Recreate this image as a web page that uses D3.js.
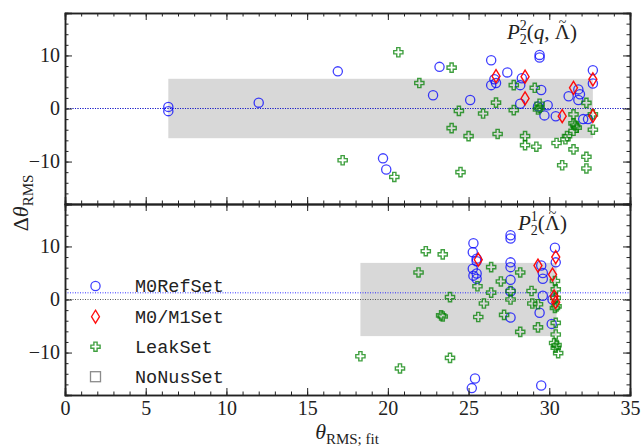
<!DOCTYPE html>
<html>
<head>
<meta charset="utf-8">
<title>RMS residuals</title>
<script src="https://cdn.jsdelivr.net/npm/d3@7"></script>
<style>
  body { margin: 0; background: #fff; }
  text { fill: #222; }
</style>
</head>
<body>
<script>
// ---- data: [theta_RMS;fit, delta theta_RMS] ----
var topM0Ref = [[6.4,0.3],[6.4,-0.5],[12.0,1.1],[16.9,7.0],[19.7,-9.4],[19.9,-11.5],[22.8,2.5],[23.2,7.85],
  [25.1,1.6],[26.4,9.1],[26.4,4.4],[26.6,5.5],[26.7,4.8],[27.4,6.8],[28.2,4.4],[28.3,5.7],[28.2,0.9],
  [29.3,0.4],[29.4,10.1],[29.4,9.6],[29.5,3.5],[29.7,-1.3],[29.9,0.6],[30.4,-1.45],[31.2,2.3],[31.8,3.6],
  [31.9,2.7],[31.8,1.6],[32.1,-2.0],[32.4,-2.0],[32.7,7.2],[32.7,4.7]];
var topM0M1 = [[26.7,6.1],[28.5,6.0],[28.5,1.9],[30.8,-1.45],[31.5,3.9],[32.7,5.5],[32.7,-1.4]];
var topLeak = [[17.2,-9.75],[20.4,-12.9],[20.65,10.6],[21.95,4.8],[23.95,7.7],[23.95,-3.7],[24.4,-0.45],
  [24.5,-12.0],[25.0,-5.2],[25.9,-0.95],[26.7,1.1],[26.8,-4.8],[27.8,4.4],[27.8,-0.3],[28.5,-5.2],
  [28.5,-6.9],[29.1,3.9],[29.2,-7.2],[29.4,0.9],[29.4,0.1],[29.3,-0.2],[30.45,-6.5],[30.8,-10.7],
  [31.0,-5.8],[31.1,-5.2],[31.5,-2.8],[31.6,-3.2],[31.7,-3.6],[31.5,-4.2],[31.5,-1.1],[31.5,-7.7],
  [32.3,1.06],[32.3,-9.1],[32.3,-11.3],[32.7,-1.1],[32.7,-4.0]];

var botM0Ref = [[25.3,10.6],[25.26,8.9],[25.5,7.7],[25.5,7.2],[25.26,5.8],[25.5,4.9],[25.3,4.5],[25.5,3.9],
  [25.2,-16.7],[25.4,-14.9],[27.6,12.1],[27.6,11.5],[27.6,7.0],[27.6,6.1],[27.6,3.7],[27.6,1.5],[27.6,-3.4],
  [29.5,-16.2],[29.5,6.4],[29.6,5.0],[29.6,3.9],[29.6,0.7],[29.4,-2.5],[30.15,-4.6],[30.35,9.75],
  [30.4,7.0],[30.2,0.0]];
var botM0M1 = [[25.6,7.5],[29.3,6.4],[30.4,8.0],[30.2,4.7],[30.3,0.6],[30.4,-0.5]];
var botLeak = [[18.3,-10.7],[20.75,-13.0],[21.9,5.1],[22.35,9.1],[23.4,8.5],[23.3,-3.0],[23.4,-3.2],
  [23.85,0.45],[23.85,-11.0],[25.55,2.5],[25.6,-3.3],[25.95,-0.75],[26.4,6.1],[26.4,1.3],[27.0,3.4],
  [27.2,-2.9],[27.6,1.6],[27.6,0.0],[28.2,5.1],[28.2,-6.1],[28.9,1.6],[28.95,-0.75],[29.3,-0.9],
  [29.3,-5.25],[30.35,3.5],[30.4,1.9],[30.4,0.3],[30.45,-1.3],[30.35,-1.6],[30.4,-4.4],[30.4,-6.6],
  [30.3,-8.2],[30.45,-8.6],[30.4,-9.1],[30.55,-10.1]];

// shaded bands [x0, x1, halfHeight] and reference lines
var topBand = [6.4, 32.7, 5.6];
var botBand = [18.3, 30.45, 6.9];
var topLines = [0];
var botLines = [1.26];

var legendNames = ["M0RefSet", "M0/M1Set", "LeakSet", "NoNusSet"];
var xTicks = [0, 5, 10, 15, 20, 25, 30, 35];
var yTicks = [-10, 0, 10];

// ---- layout ----
var W = 642, H = 447;
var svg = d3.select("body").append("svg").attr("width", W).attr("height", H);

var x = d3.scaleLinear().domain([0, 35]).range([65, 630]);
var yTop = d3.scaleLinear().domain([-18, 18]).range([204, 13]);
var yBot = d3.scaleLinear().domain([-18, 18]).range([395, 204]);

var serif = "'Liberation Serif', 'Times New Roman', serif";

var circleCol = "rgba(0,0,255,0.75)",
    diamondCol = "rgba(255,0,0,0.95)",
    crossCol = "rgba(0,128,0,0.75)";

function crossPath(s, w) {
  return "M" + (-w) + "," + (-s) + "H" + w + "V" + (-w) + "H" + s + "V" + w + "H" + w + "V" + s +
         "H" + (-w) + "V" + w + "H" + (-s) + "V" + (-w) + "H" + (-w) + "Z";
}
var diamondPath = "M0,-6.5L4,0L0,6.5L-4,0Z";

function drawPanel(y, band, lines, refs, m0m1, leak, isBottom) {
  var g = svg.append("g");

  g.append("rect")
    .attr("x", x(band[0])).attr("width", x(band[1]) - x(band[0]))
    .attr("y", y(band[2])).attr("height", y(-band[2]) - y(band[2]))
    .attr("fill", "#d8d8d8");

  // zero line (black dotted) + fit offset (blue dotted)
  g.append("line")
    .attr("x1", x(0)).attr("x2", x(35)).attr("y1", y(0)).attr("y2", y(0))
    .attr("stroke", "#555").attr("stroke-width", 1).attr("stroke-dasharray", "1,1.5");
  g.selectAll("line.fit").data(lines).enter().append("line")
    .attr("x1", x(0)).attr("x2", x(35))
    .attr("y1", function(d) { return y(d); }).attr("y2", function(d) { return y(d); })
    .attr("stroke", "rgba(0,0,255,0.8)").attr("stroke-width", 1).attr("stroke-dasharray", "1,1.5");

  g.selectAll("circle.ref").data(refs).enter().append("circle")
    .attr("cx", function(d) { return x(d[0]); })
    .attr("cy", function(d) { return y(d[1]); })
    .attr("r", 4.6)
    .attr("fill", "none").attr("stroke", circleCol).attr("stroke-width", 1.3);

  g.selectAll("path.leak").data(leak).enter().append("path")
    .attr("d", crossPath(4.6, 1.6))
    .attr("transform", function(d) { return "translate(" + x(d[0]) + "," + y(d[1]) + ")"; })
    .attr("fill", "none").attr("stroke", crossCol).attr("stroke-width", 1.4);

  g.selectAll("path.m0m1").data(m0m1).enter().append("path")
    .attr("d", diamondPath)
    .attr("transform", function(d) { return "translate(" + x(d[0]) + "," + y(d[1]) + ")"; })
    .attr("fill", "none").attr("stroke", diamondCol).attr("stroke-width", 1.4);

  // axes, ticks inward on all sides
  var y0 = y.range()[0], y1 = y.range()[1];
  var minorX = d3.range(0, 36, 1), minorY = d3.range(-18, 19, 2);
  function style(a) {
    a.attr("font-family", serif).attr("font-size", 20);
    a.select(".domain").attr("stroke", "#222").attr("stroke-width", 1.5);
    a.selectAll(".tick line").attr("stroke", "#222").attr("stroke-width", 1);
    a.selectAll("text").attr("font-family", serif).attr("font-size", 20).attr("fill", "#222");
  }
  var ax;
  ax = g.append("g").attr("transform", "translate(0," + y0 + ")")
    .call(d3.axisBottom(x).tickValues(minorX).tickSize(-3.5).tickFormat(""));
  style(ax);
  ax = g.append("g").attr("transform", "translate(0," + y0 + ")")
    .call(d3.axisBottom(x).tickValues(xTicks).tickSize(-7).tickPadding(6)
      .tickFormat(isBottom ? d3.format("d") : ""));
  style(ax);
  ax = g.append("g").attr("transform", "translate(0," + y1 + ")")
    .call(d3.axisTop(x).tickValues(minorX).tickSize(-3.5).tickFormat(""));
  style(ax);
  ax = g.append("g").attr("transform", "translate(0," + y1 + ")")
    .call(d3.axisTop(x).tickValues(xTicks).tickSize(-7).tickFormat(""));
  style(ax);

  ax = g.append("g").attr("transform", "translate(" + x(0) + ",0)")
    .call(d3.axisLeft(y).tickValues(minorY).tickSize(-3.5).tickFormat(""));
  style(ax);
  ax = g.append("g").attr("transform", "translate(" + x(0) + ",0)")
    .call(d3.axisLeft(y).tickValues(yTicks).tickSize(-7).tickPadding(5)
      .tickFormat(function(d) { return d < 0 ? "\u2212" + Math.abs(d) : d; }));
  style(ax);
  ax = g.append("g").attr("transform", "translate(" + x(35) + ",0)")
    .call(d3.axisRight(y).tickValues(minorY).tickSize(-3.5).tickFormat(""));
  style(ax);
  ax = g.append("g").attr("transform", "translate(" + x(35) + ",0)")
    .call(d3.axisRight(y).tickValues(yTicks).tickSize(-7).tickFormat(""));
  style(ax);
  return g;
}

drawPanel(yTop, topBand, topLines, topM0Ref, topM0M1, topLeak, false);
drawPanel(yBot, botBand, botLines, botM0Ref, botM0M1, botLeak, true);

// panel titles; the tilde over Lambda is placed by hand from the glyph extent
function tildeOver(tspan) {
  var n = tspan.node();
  var p = n.getStartPositionOfChar(0);
  var w = n.getComputedTextLength();
  svg.append("text")
    .attr("x", p.x + w / 2).attr("y", p.y - 12)
    .attr("text-anchor", "middle")
    .attr("font-family", serif).attr("font-size", 14)
    .text("~");
}
function title(xp, yp, sup, arg) {
  var t = svg.append("text").attr("x", xp).attr("y", yp)
    .attr("font-family", serif).attr("font-size", 21);
  t.append("tspan").attr("font-style", "italic").text("P");
  t.append("tspan").attr("font-size", 14).attr("dy", 5).text("2");
  t.append("tspan").attr("font-size", 14).attr("dx", -7).attr("dy", -14).text(sup);
  t.append("tspan").attr("dy", 9).text("(");
  arg(t);
  t.append("tspan").text(")");
}
title(507, 39, "2", function(t) {
  t.append("tspan").attr("font-style", "italic").text("q");
  t.append("tspan").text(", ");
  tildeOver(t.append("tspan").text("\u039B"));
});
title(518, 230, "1", function(t) {
  tildeOver(t.append("tspan").text("\u039B"));
});

// axis labels
var yl = svg.append("text")
  .attr("transform", "translate(28,203) rotate(-90)")
  .attr("text-anchor", "middle")
  .attr("font-family", serif).attr("font-size", 22);
yl.append("tspan").text("\u0394");
yl.append("tspan").attr("font-style", "italic").text("\u03B8");
yl.append("tspan").attr("font-size", 15).attr("dy", 5).text("RMS");

var xl = svg.append("text")
  .attr("x", 347).attr("y", 439)
  .attr("text-anchor", "middle")
  .attr("font-family", serif).attr("font-size", 22);
xl.append("tspan").attr("font-style", "italic").text("\u03B8");
xl.append("tspan").attr("font-size", 15).attr("dy", 5).text("RMS; fit");

// legend
var legY = [286, 316.7, 346.7, 376.7];
var leg = svg.append("g");
leg.append("circle").attr("cx", 95.5).attr("cy", legY[0]).attr("r", 4.6)
  .attr("fill", "none").attr("stroke", circleCol).attr("stroke-width", 1.3);
leg.append("path").attr("d", diamondPath)
  .attr("transform", "translate(95.5," + legY[1] + ")")
  .attr("fill", "none").attr("stroke", diamondCol).attr("stroke-width", 1.3);
leg.append("path").attr("d", crossPath(4.6, 1.6))
  .attr("transform", "translate(95.5," + legY[2] + ")")
  .attr("fill", "none").attr("stroke", crossCol).attr("stroke-width", 1.4);
leg.append("rect").attr("x", 90.5).attr("y", legY[3] - 5).attr("width", 10).attr("height", 10)
  .attr("fill", "none").attr("stroke", "rgba(110,110,110,0.8)").attr("stroke-width", 1.3);
leg.selectAll("text").data(legendNames).enter().append("text")
  .attr("x", 135)
  .attr("y", function(d, i) { return legY[i] + 6; })
  .attr("font-family", "'Liberation Mono', 'DejaVu Sans Mono', monospace")
  .attr("font-size", 18.5)
  .text(function(d) { return d; });
</script>
</body>
</html>
